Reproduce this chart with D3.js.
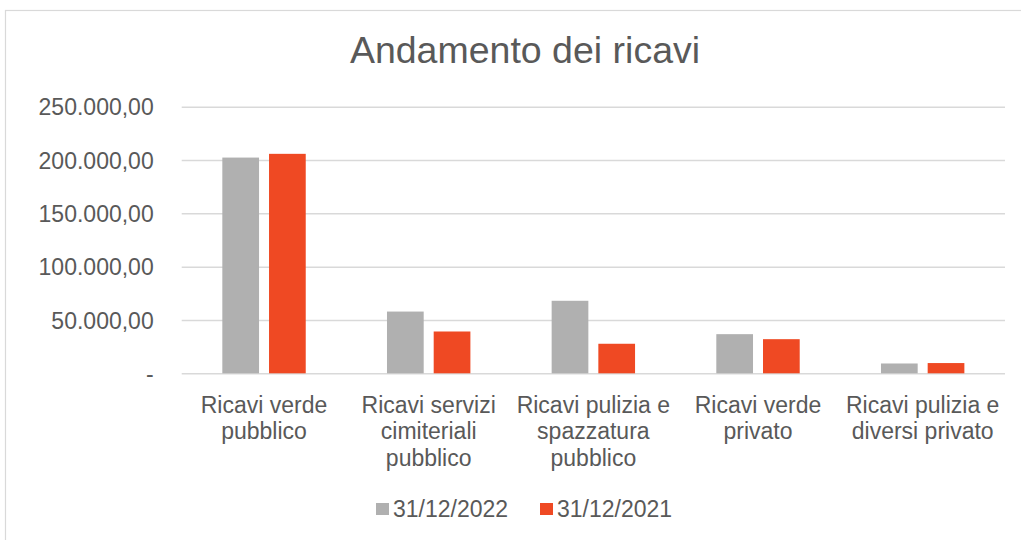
<!DOCTYPE html>
<html>
<head>
<meta charset="utf-8">
<script src="https://cdn.jsdelivr.net/npm/d3@7"></script>
<style>
  body { margin: 0; background: #fff; }
  text { font-family: "Liberation Sans", Arial, sans-serif; fill: #595959; }
</style>
</head>
<body>
<svg id="chart" width="1021" height="540"></svg>
<script>
var categories = [
  ["Ricavi verde", "pubblico"],
  ["Ricavi servizi", "cimiteriali", "pubblico"],
  ["Ricavi pulizia e", "spazzatura", "pubblico"],
  ["Ricavi verde", "privato"],
  ["Ricavi pulizia e", "diversi privato"]
];
var series = ["31/12/2022", "31/12/2021"];
var values2022 = [202300, 57900, 68000, 36700, 9200];
var values2021 = [205800, 39200, 27700, 32000, 9600];
var yTicks = [0, 50000, 100000, 150000, 200000, 250000];
var colors = ["#b0b0b0", "#ef4923"];

var svg = d3.select("#chart");

// chart frame (only top/left edges are inside the picture)
svg.append("rect")
    .attr("x", 5.5).attr("y", 10.5)
    .attr("width", 1100).attr("height", 600)
    .attr("fill", "#fff")
    .attr("stroke", "#d9d9d9")
    .attr("stroke-width", 1.2);

var plotLeft = 181.7, plotRight = 1005, plotTop = 106.7, plotBottom = 373.3;

var x0 = d3.scaleBand()
    .domain(d3.range(categories.length))
    .range([plotLeft, plotRight])
    .padding(0);

var x1 = d3.scaleBand()
    .domain(series)
    .range([0, x0.bandwidth()])
    .paddingInner(0.214)
    .paddingOuter(0.87);

var y = d3.scaleLinear()
    .domain([0, 250000])
    .range([plotBottom, plotTop]);

var it = d3.formatLocale({decimal: ",", thousands: ".", grouping: [3], currency: ["", ""]});
var fmt = it.format(",.2f");

// title
svg.append("text")
    .attr("x", 525)
    .attr("y", 63)
    .attr("text-anchor", "middle")
    .style("font-size", "37.5px")
    .text("Andamento dei ricavi");

// grid + y labels
var yAxis = svg.append("g")
    .attr("transform", "translate(" + plotLeft + ",0)")
    .call(d3.axisLeft(y).tickValues(yTicks)
      .tickSize(-(plotRight - plotLeft))
      .tickPadding(28)
      .tickFormat(function(d){ return d === 0 ? "-" : fmt(d); }));
yAxis.select(".domain").remove();
yAxis.selectAll(".tick line")
    .attr("stroke", "#d9d9d9")
    .attr("stroke-width", 1.5);
yAxis.selectAll(".tick text")
    .attr("fill", "#595959")
    .style("font-size", "23px")
    .style("font-family", "'Liberation Sans', Arial, sans-serif")
    .attr("dy", "0.36em");

// bars
var table = categories.map(function(c, i){
  return [values2022[i], values2021[i]];
});

var groups = svg.selectAll("g.cat")
    .data(table)
  .enter().append("g")
    .attr("class", "cat")
    .attr("transform", function(d, i){ return "translate(" + x0(i) + ",0)"; });

groups.selectAll("rect")
    .data(function(d){ return d.map(function(v, j){ return {s: series[j], v: v, j: j}; }); })
  .enter().append("rect")
    .attr("x", function(d){ return x1(d.s); })
    .attr("y", function(d){ return y(d.v); })
    .attr("width", x1.bandwidth())
    .attr("height", function(d){ return y(0) - y(d.v); })
    .attr("fill", function(d){ return colors[d.j]; });

// category labels
var lab = svg.selectAll("text.cat")
    .data(categories)
  .enter().append("text")
    .attr("class", "cat")
    .attr("text-anchor", "middle")
    .style("font-size", "23px")
    .attr("transform", function(d, i){ return "translate(" + (x0(i) + x0.bandwidth()/2) + ",412.5)"; });
lab.selectAll("tspan")
    .data(function(d){ return d; })
  .enter().append("tspan")
    .attr("x", 0)
    .attr("y", function(d, k){ return k * 26.7; })
    .text(function(d){ return d; });

// legend
var legendX = [376, 540];
var leg = svg.selectAll("g.leg")
    .data(series)
  .enter().append("g")
    .attr("class", "leg")
    .attr("transform", function(d, i){ return "translate(" + legendX[i] + ",503)"; });
leg.append("rect")
    .attr("width", 13).attr("height", 12)
    .attr("fill", function(d, i){ return colors[i]; });
leg.append("text")
    .attr("x", 17)
    .attr("y", 13.7)
    .style("font-size", "23px")
    .text(function(d){ return d; });
</script>
</body>
</html>
